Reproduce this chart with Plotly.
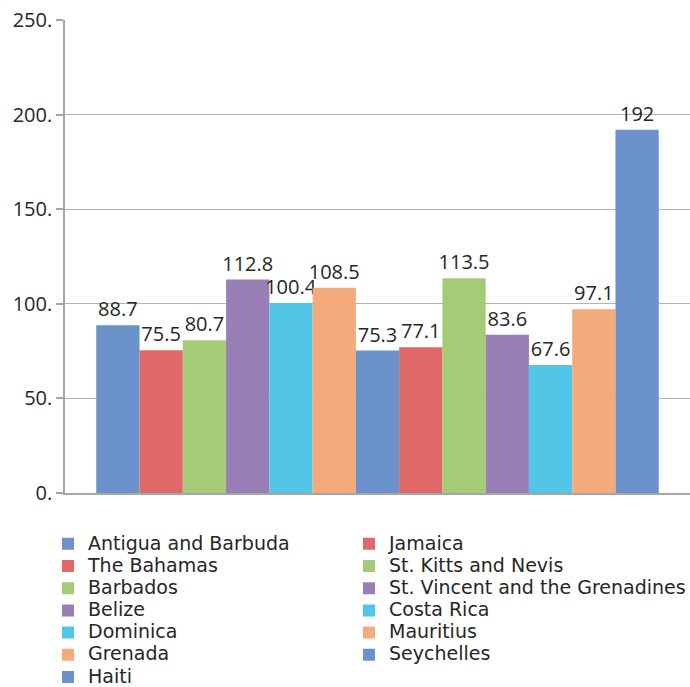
import plotly.graph_objects as go

countries = ["Antigua and Barbuda", "The Bahamas", "Barbados", "Belize", "Dominica",
             "Grenada", "Haiti", "Jamaica", "St. Kitts and Nevis",
             "St. Vincent and the Grenadines", "Costa Rica", "Mauritius", "Seychelles"]
values = [88.7, 75.5, 80.7, 112.8, 100.4, 108.5, 75.3, 77.1, 113.5, 83.6, 67.6, 97.1, 192]
colors = ["#6b92cb", "#e06869", "#a6cb76", "#9880b7", "#53c5e6", "#f3ab7c",
          "#6b92cb", "#e06869", "#a6cb76", "#9880b7", "#53c5e6", "#f3ab7c", "#6b92cb"]
tick_vals = [0, 50, 100, 150, 200, 250]
tick_text = ["0.", "50.", "100.", "150.", "200.", "250."]

FONT = "Open Sans"
LFONT = "DejaVu Sans"
TXT = "#262626"

fig = go.Figure()
for i, (name, v, c) in enumerate(zip(countries, values, colors)):
    fig.add_trace(go.Bar(
        x=["group"], y=[v],
        name=f'<span style="font-size:19px">{name}</span>',
        marker=dict(color=c, line=dict(width=0)),
        texttemplate="%{y}", textposition="outside",
        constraintext="none", cliponaxis=False,
        textfont=dict(family=FONT, size=20, color=TXT),
        legend="legend" if i < 7 else "legend2",
        hoverinfo="skip",
    ))

leg_common = dict(yanchor="top", xanchor="left",
                  font=dict(family=LFONT, size=14.75, color=TXT),
                  bgcolor="rgba(0,0,0,0)", traceorder="normal")

fig.update_layout(
    width=690, height=687,
    margin=dict(l=65, r=0, t=20, b=194, autoexpand=False),
    paper_bgcolor="white", plot_bgcolor="white",
    barmode="group", bargap=0.1, bargroupgap=0,
    font=dict(family=FONT, color=TXT),
    xaxis=dict(showticklabels=False, ticks="", showline=True, linecolor="#a6a6a6",
               linewidth=1.5, showgrid=False, zeroline=False),
    yaxis=dict(range=[0, 250], tickvals=tick_vals, ticktext=tick_text,
               ticks="outside", ticklen=7, tickcolor="#a6a6a6", tickwidth=1.5,
               showline=True, linecolor="#a6a6a6", linewidth=1.5,
               showgrid=True, gridcolor="#b3b3b3", gridwidth=1.2, zeroline=False,
               tickfont=dict(family=FONT, size=20, color=TXT)),
    legend=dict(x=-0.0272, y=-0.0735, **leg_common),
    legend2=dict(x=0.4544, y=-0.0735, **leg_common),
    showlegend=True,
)

fig.write_html("out.html")
